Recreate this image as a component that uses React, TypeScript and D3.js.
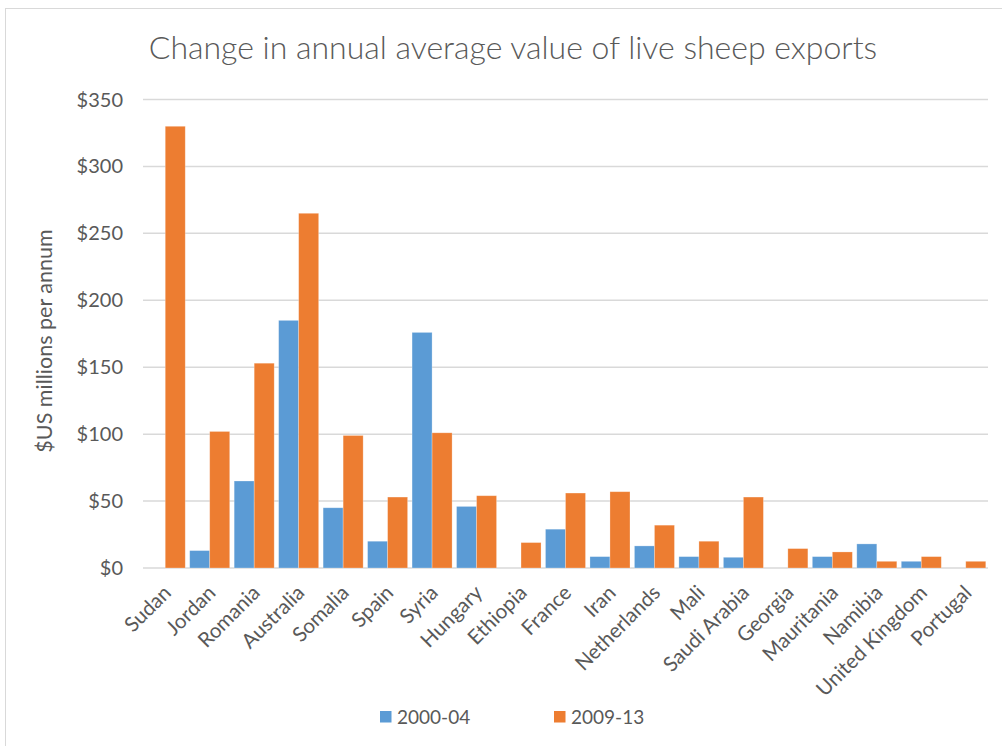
import React from "react";
import * as d3 from "d3";

const countries = ["Sudan","Jordan","Romania","Australia","Somalia","Spain","Syria","Hungary","Ethiopia","France","Iran","Netherlands","Mali","Saudi Arabia","Georgia","Mauritania","Namibia","United Kingdom","Portugal"];
const v2000 = [0,13,65,185,45,20,176,46,0,29,8.5,16.5,8.5,8,0,8.5,18,5,0];
const v2009 = [330,102,153,265,99,53,101,54,19,56,57,32,20,53,14.5,12,5,8.5,5];
const seriesNames = ["2000-04","2009-13"];
const yTicks = [0,50,100,150,200,250,300,350];
const colors = ["#5B9BD5","#ED7D31"];

const W = 1002, H = 746;
const left = 143, right = 988, top = 99.5, bottom = 568;
const FONT = "Lato, 'Open Sans', sans-serif";
const TXT = "#595959";

export default function App() {
  const x = d3.scaleBand<string>().domain(countries).range([left, right]).paddingInner(0.1).paddingOuter(0.05);
  const x1 = d3.scaleBand<string>().domain(seriesNames).range([0, x.bandwidth()]);
  const y = d3.scaleLinear().domain([0, 350]).range([bottom, top]);
  const data = [v2000, v2009];
  return (
    <svg width={W} height={H} style={{ position: "absolute", left: 0, top: 0, background: "#fff" }} fontFamily={FONT}>
      <rect x={5.5} y={8.5} width={W - 4} height={H} fill="#fff" stroke="#d9d9d9" />
      <text x={513} y={59} textAnchor="middle" fontSize={32} fill={TXT} fontWeight={300}>
        Change in annual average value of live sheep exports
      </text>
      {yTicks.map((t) => (
        <g key={t}>
          <line x1={left} x2={right} y1={y(t)} y2={y(t)} stroke="#d9d9d9" strokeWidth={1.5} />
          <text x={123} y={y(t)} dy="0.35em" textAnchor="end" fontSize={20} fill={TXT}>{"$" + t}</text>
        </g>
      ))}
      <text transform={`translate(52,341) rotate(-90)`} textAnchor="middle" fontSize={21.5} fill={TXT}>$US millions per annum</text>
      {data.map((vals, si) =>
        vals.map((v, i) => v > 0 ? (
          <rect key={si + "-" + i}
            x={(x(countries[i]) as number) + (x1(seriesNames[si]) as number)}
            y={y(v)} width={x1.bandwidth()} height={y(0) - y(v)}
            fill={colors[si]} stroke="#fff" strokeOpacity={0.35} strokeWidth={0.75} />
        ) : null)
      )}
      {countries.map((c) => {
        const cx = (x(c) as number) + x.bandwidth() / 2 + 2;
        return (
          <text key={c} transform={`translate(${cx},589) rotate(-45)`} textAnchor="end" fontSize={20.5} fill={TXT} dy="0.35em">{c}</text>
        );
      })}
      {seriesNames.map((s, i) => (
        <g key={s} transform={`translate(${i === 0 ? 380 : 554},711)`}>
          <rect x={0} y={0} width={11.5} height={11.5} fill={colors[i]} />
          <text x={17} y={6} dy="0.35em" fontSize={19} fill={TXT}>{s}</text>
        </g>
      ))}
    </svg>
  );
}
